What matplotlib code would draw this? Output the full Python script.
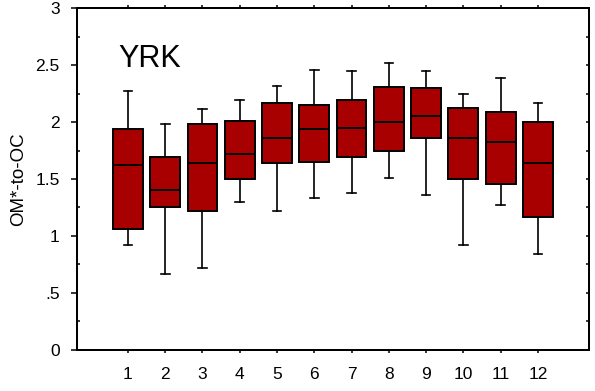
# YRK の OM*-to-OC 月別箱ひげ図

import matplotlib
matplotlib.use("Agg")
import matplotlib.pyplot as plt

plt.rcParams['font.family'] = ['Liberation Sans', 'DejaVu Sans']

# データ
months = [1, 2, 3, 4, 5, 6, 7, 8, 9, 10, 11, 12]
whislo = [0.92, 0.67, 0.72, 1.30, 1.22, 1.33, 1.375, 1.51, 1.36, 0.92, 1.27, 0.845]
q1 = [1.06, 1.25, 1.22, 1.50, 1.64, 1.65, 1.69, 1.75, 1.86, 1.50, 1.46, 1.17]
med = [1.625, 1.40, 1.64, 1.72, 1.86, 1.935, 1.95, 2.00, 2.05, 1.86, 1.825, 1.64]
q3 = [1.94, 1.69, 1.98, 2.01, 2.17, 2.15, 2.19, 2.31, 2.295, 2.12, 2.09, 2.00]
whishi = [2.27, 1.98, 2.11, 2.19, 2.32, 2.46, 2.45, 2.515, 2.45, 2.245, 2.39, 2.17]
ytick_vals = [0, 0.5, 1, 1.5, 2, 2.5, 3]
ytick_labels = ['0', '.5', '1', '1.5', '2', '2.5', '3']

stats = []
for i in range(len(months)):
    stats.append(dict(med=med[i], q1=q1[i], q3=q3[i],
                      whislo=whislo[i], whishi=whishi[i], fliers=[]))

fig = plt.figure(figsize=(5.95, 3.91), dpi=100)
ax = fig.add_axes([0.1286, 0.1049, 0.8613, 0.8746])

ax.bxp(stats, positions=months, widths=0.8, capwidths=0.23,
       patch_artist=True, showfliers=False,
       boxprops=dict(facecolor='#A80000', edgecolor='black', linewidth=1.4),
       medianprops=dict(color='black', linewidth=1.4),
       whiskerprops=dict(color='black', linewidth=1.2),
       capprops=dict(color='black', linewidth=1.2))

ax.set_xlim(-0.38, 13.37)
ax.set_ylim(0, 3)

# x軸目盛り（上下とも外向き）
ax.set_xticks(months)
ax.set_xticklabels([str(m) for m in months])
ax.tick_params(axis='x', which='major', direction='out', length=2.5, width=1.1,
               top=True, labelsize=12.5, pad=10)

# y軸目盛り（左：主目盛り外向き・補助目盛り内向き）
ax.set_yticks(ytick_vals)
ax.set_yticklabels(ytick_labels)
ax.set_yticks([0.25, 0.75, 1.25, 1.75, 2.25, 2.75], minor=True)
ax.tick_params(axis='y', which='major', direction='out', length=4.5, width=1.1,
               labelsize=12.5, pad=7.5)
ax.tick_params(axis='y', which='minor', direction='in', length=2, width=1.1)

# 右側の目盛り（内向き、ラベルなし）
ax2 = ax.twinx()
ax2.set_ylim(0, 3)
ax2.set_yticks([i * 0.25 for i in range(13)])
ax2.tick_params(axis='y', direction='in', length=2.5, width=1.1, labelright=False)

for a in (ax, ax2):
    for s in a.spines.values():
        s.set_linewidth(1.4)
        s.set_color('black')

ax.set_ylabel('OM*-to-OC', fontsize=13.5, labelpad=6)
ax.text(0.081, 0.827, 'YRK', transform=ax.transAxes, fontsize=22,
        ha='left', va='baseline')

fig.savefig("out.png", dpi=100)
